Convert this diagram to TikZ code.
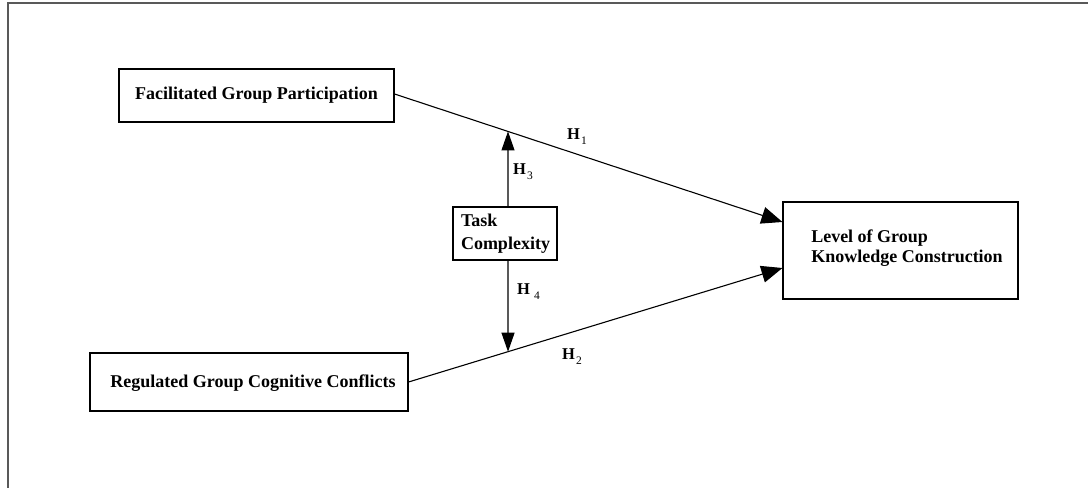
\documentclass[tikz,border=0pt]{standalone}
\usepackage{fontspec}
\setmainfont{Liberation Serif}
\usetikzlibrary{arrows.meta}
\newcommand\hyp[2]{\textbf{H}\kern#2pt\raisebox{-5pt}{\fontsize{11.5}{11.5}\selectfont #1}}
\begin{document}
\begin{tikzpicture}[x=1pt,y=-1pt,
  box/.style={draw, line width=1.1pt, rectangle, inner sep=0pt},
  txt/.style={font=\fontsize{18}{20.5}\selectfont\bfseries, align=left, inner sep=0pt},
  link/.style={line width=1.1pt, -{Triangle[length=21pt,width=17pt]}},
  vlink/.style={line width=1.1pt, -{Triangle[length=19pt,width=13pt]}},
  hlab/.style={font=\fontsize{16.5}{16.5}\selectfont, inner sep=0pt, anchor=west}]
\useasboundingbox (0,0) rectangle (1088,488);
% frame: top and left edges only
\draw[line width=2pt, black!65] (1088,2.5) -- (7.5,2.5) -- (7.5,488);

% boxes
\node[box, minimum width=275pt, minimum height=53pt, txt] (fgp) at (256.5,95.5) {Facilitated Group Participation};
\node[box, minimum width=318pt, minimum height=58pt] (rgcc) at (249,382) {};
\node[txt] (rgcctext) at (253,383) {Regulated Group Cognitive Conflicts};
\node[box, minimum width=104pt, minimum height=53pt] (tc) at (505,233.5) {};
\node[txt, font=\fontsize{18}{23}\selectfont\bfseries] (tctext) at (505.5,233.5) {Task\\Complexity};
\node[box, minimum width=235pt, minimum height=97pt] (lgkc) at (900.5,250.5) {};
\node[txt] (lgkctext) at (907,248) {Level of Group\\Knowledge Construction};

% end points of the two main paths on the outcome box (yshift is upward on the page)
\coordinate (inA) at ([yshift=28.5pt]lgkc.west);
\coordinate (inB) at ([yshift=-17.5pt]lgkc.west);
\coordinate (outA) at ([yshift=1.5pt]fgp.east);

% main effects
\draw[link] (outA) -- (inA);
\draw[link] (rgcc.east) -- (inB);

% moderation arrows meeting the main paths
\coordinate (tcN) at ([xshift=3pt]tc.north);
\coordinate (tcS) at ([xshift=3pt]tc.south);
\coordinate (mA) at (intersection of outA--inA and tcN--tcS);
\coordinate (mB) at (intersection of rgcc.east--inB and tcN--tcS);
\draw[vlink] (tcN) -- (mA);
\draw[vlink] (tcS) -- (mB);

% hypothesis labels
\node[hlab] (h1) at (567,137) {\hyp{1}{1}};
\node[hlab] (h3) at (513,172) {\hyp{3}{1}};
\node[hlab] (h4) at (517,292) {\hyp{4}{4}};
\node[hlab] (h2) at (562,357) {\hyp{2}{1}};
\end{tikzpicture}
\end{document}
